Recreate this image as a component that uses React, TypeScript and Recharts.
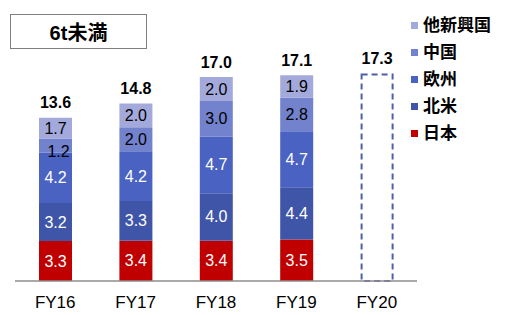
import React from 'react';
import { BarChart, Bar, XAxis, YAxis, LabelList } from 'recharts';

const categories = ['FY16', 'FY17', 'FY18', 'FY19', 'FY20'];
const japan = [3.33, 3.36, 3.36, 3.46, null];
const northAmerica = [3.16, 3.3, 3.96, 4.36, null];
const europe = [4.2, 4.16, 4.7, 4.66, null];
const china = [1.18, 2.0, 2.98, 2.8, null];
const others = [1.73, 1.98, 2.0, 1.86, null];
const totals = [13.6, 14.8, 17.0, 17.1, 17.3];
const forecast = [null, null, null, null, 17.3];

const seriesNames = ['日本', '北米', '欧州', '中国', '他新興国'];
const seriesKeys = ['japan', 'northAmerica', 'europe', 'china', 'others'];
const seriesColors = ['#C00000', '#3F55A8', '#4A62C2', '#7282CC', '#A3AADB'];
const labelColors = ['#FFFFFF', '#FFFFFF', '#FFFFFF', '#000000', '#000000'];

const data = categories.map((name, i) => ({
  name,
  japan: japan[i],
  northAmerica: northAmerica[i],
  europe: europe[i],
  china: china[i],
  others: others[i],
  forecast: forecast[i],
}));

const NUM_FONT = "'Liberation Sans', Arial, 'Noto Sans CJK JP', sans-serif";
const CJK_FONT = "'Liberation Sans', 'Noto Sans CJK JP', sans-serif";

const makeSegmentLabel = (color: string) => (props: any) => {
  const { x, y, width, height, value } = props;
  if (value == null || !height) return null;
  const small = Math.abs(height) < 16;
  const cx = Number(x) + Number(width) / 2 + (small ? 3 : 0);
  const cy = Number(y) + Number(height) / 2 + (small ? 6 : 0);
  return (
    <text
      x={cx}
      y={cy}
      dy={5.5}
      textAnchor="middle"
      fill={color}
      fontSize={16}
      fontFamily={NUM_FONT}
    >
      {Number(value).toFixed(1)}
    </text>
  );
};

const totalLabel = (props: any) => {
  const { x, y, width, value, index } = props;
  if (value == null) return null;
  return (
    <text
      x={Number(x) + Number(width) / 2}
      y={Number(y) - 15}
      dy={5.5}
      textAnchor="middle"
      fill="#000"
      fontSize={16}
      fontWeight="bold"
      fontFamily={NUM_FONT}
    >
      {totals[index].toFixed(1)}
    </text>
  );
};

const DashedShape = (props: any) => {
  const { x, y, width, height } = props;
  if (!height) return null;
  return (
    <rect
      x={x + 1}
      y={y + 1}
      width={width - 2}
      height={height - 1}
      fill="none"
      stroke="#4F5FA8"
      strokeWidth={2}
      strokeDasharray="6 4"
    />
  );
};

const AxisTick = (props: any) => {
  const { x, y, payload } = props;
  return (
    <text x={x} y={y + 27} textAnchor="middle" fill="#000" fontSize={17} fontFamily={NUM_FONT}>
      {payload.value}
    </text>
  );
};

const LegendBox = () => {
  const order = [4, 3, 2, 1, 0];
  return (
    <div style={{ position: 'absolute', left: 411, top: 12, width: 100, height: 140 }}>
      {order.map((si, row) => (
        <div
          key={si}
          style={{
            position: 'absolute',
            left: 0,
            top: row * 27,
            height: 27,
            display: 'flex',
            alignItems: 'center',
            whiteSpace: 'nowrap',
          }}
        >
          <span
            style={{
              display: 'inline-block',
              width: 7,
              height: 7,
              background: seriesColors[si],
              marginRight: 5,
            }}
          />
          <span
            style={{
              fontFamily: CJK_FONT,
              fontWeight: 'bold',
              fontSize: 17,
              color: '#000',
              lineHeight: '27px',
            }}
          >
            {seriesNames[si]}
          </span>
        </div>
      ))}
    </div>
  );
};

export default function App() {
  return (
    <div style={{ position: 'absolute', left: 0, top: 0, width: 505, height: 315, background: '#fff' }}>
      <div
        style={{
          position: 'absolute',
          left: 10,
          top: 14,
          width: 135,
          height: 33,
          border: '1px solid #7F7F7F',
          display: 'flex',
          alignItems: 'center',
          justifyContent: 'center',
          fontFamily: CJK_FONT,
          fontWeight: 'bold',
          fontSize: 20,
          color: '#000',
          zIndex: 2,
        }}
      >
        6t未満
      </div>
      <BarChart
        width={505}
        height={315}
        data={data}
        margin={{ top: 41, right: 88, left: 15, bottom: 4 }}
        barSize={33}
      >
        <YAxis hide domain={[0, 20]} />
        <XAxis
          dataKey="name"
          height={30}
          tickLine={false}
          tickSize={0}
          tickMargin={0}
          axisLine={{ stroke: '#8C8C8C', strokeWidth: 1.5 }}
          tick={<AxisTick />}
          interval={0}
        />
        {seriesKeys.map((k, i) => (
          <Bar
            key={k}
            dataKey={k}
            name={seriesNames[i]}
            stackId="a"
            fill={seriesColors[i]}
            isAnimationActive={false}
          >
            <LabelList dataKey={k} content={makeSegmentLabel(labelColors[i])} />
            {k === 'others' ? <LabelList dataKey={k} content={totalLabel} /> : null}
          </Bar>
        ))}
        <Bar
          dataKey="forecast"
          stackId="a"
          fill="none"
          shape={<DashedShape />}
          isAnimationActive={false}
          legendType="none"
        >
          <LabelList dataKey="forecast" content={totalLabel} />
        </Bar>
      </BarChart>
      <LegendBox />
    </div>
  );
}
